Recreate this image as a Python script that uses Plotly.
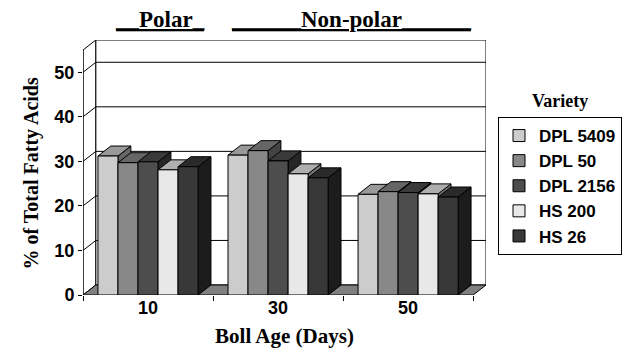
import plotly.graph_objects as go

# ---------------- data ----------------
categories = ["10", "30", "50"]
series_names = ["DPL 5409", "DPL 50", "DPL 2156", "HS 200", "HS 26"]
dpl_5409 = [31.2, 31.4, 22.6]
dpl_50 = [29.7, 32.4, 23.2]
dpl_2156 = [29.9, 30.1, 23.0]
hs_200 = [28.1, 27.2, 22.7]
hs_26 = [28.8, 26.3, 22.0]
y_ticks = [0, 10, 20, 30, 40, 50]
y_max = 55

series_values = [dpl_5409, dpl_50, dpl_2156, hs_200, hs_26]

# ---------------- style ----------------
front_colors = ["#cccccc", "#888888", "#4d4d4d", "#e8e8e8", "#383838"]
top_colors = ["#999999", "#666666", "#3a3a3a", "#aeaeae", "#2a2a2a"]
side_colors = ["#666666", "#444444", "#262626", "#747474", "#1c1c1c"]

SERIF = "Liberation Serif"
SANS = "Liberation Sans"

# pixel geometry
L, R, T, B = 83, 141, 40, 61
W, H = 631, 356
plot_w = W - L - R
plot_h = H - T - B
depth_px_x, depth_px_y = 13, 10

n_cat = len(categories)
px_per_x = (plot_w - depth_px_x) / n_cat
DX = depth_px_x / px_per_x
DY = depth_px_y * (y_max) / (plot_h - depth_px_y)

BARGAP = 0.23
GROUP_W = 1 - BARGAP
BAR_W = GROUP_W / len(series_names)

x0, x1 = -0.5, n_cat - 0.5

fig = go.Figure()

for k, (name, vals) in enumerate(zip(series_names, series_values)):
    fig.add_trace(go.Bar(
        name=name, x=categories, y=vals,
        width=BAR_W, offset=-GROUP_W / 2 + k * BAR_W,
        marker=dict(color=front_colors[k], line=dict(color="black", width=1)),
    ))

shapes = []
edge = dict(color="black", width=1)

# side wall
shapes.append(dict(type="path", layer="below", xref="x", yref="y",
                   path=f"M{x0},0 L{x0+DX},{DY} L{x0+DX},{y_max+DY} L{x0},{y_max} Z",
                   fillcolor="white", line=edge))
# back wall
shapes.append(dict(type="rect", layer="below", xref="x", yref="y",
                   x0=x0 + DX, y0=DY, x1=x1 + DX, y1=y_max + DY,
                   fillcolor="white", line=edge))
# floor
shapes.append(dict(type="path", layer="below", xref="x", yref="y",
                   path=f"M{x0},0 L{x1},0 L{x1+DX},{DY} L{x0+DX},{DY} Z",
                   fillcolor="#808080", line=edge))
# gridlines
for v in y_ticks[1:]:
    shapes.append(dict(type="line", layer="below", xref="x", yref="y",
                       x0=x0, y0=v, x1=x0 + DX, y1=v + DY, line=edge))
    shapes.append(dict(type="line", layer="below", xref="x", yref="y",
                       x0=x0 + DX, y0=v + DY, x1=x1 + DX, y1=v + DY, line=edge))
# front value axis line
shapes.append(dict(type="line", layer="below", xref="x", yref="y",
                   x0=x0, y0=0, x1=x0, y1=y_max, line=edge))

# 3D faces of bars
for i in range(n_cat):
    for k, vals in enumerate(series_values):
        v = vals[i]
        xl = i - GROUP_W / 2 + k * BAR_W
        xr = xl + BAR_W
        shapes.append(dict(type="path", layer="below", xref="x", yref="y",
                           path=f"M{xr},0 L{xr+DX},{DY} L{xr+DX},{v+DY} L{xr},{v} Z",
                           fillcolor=side_colors[k], line=edge))
        shapes.append(dict(type="path", layer="below", xref="x", yref="y",
                           path=f"M{xl},{v} L{xr},{v} L{xr+DX},{v+DY} L{xl+DX},{v+DY} Z",
                           fillcolor=top_colors[k], line=edge))

def px_to_paper_x(px):
    return (px - L) / plot_w

def px_to_paper_y(py):
    return (H - B - py) / plot_h

annotations = [
    dict(text="<u>__Polar_</u>", x=px_to_paper_x(161), y=px_to_paper_y(19),
         xref="paper", yref="paper", showarrow=False, xanchor="center", yanchor="middle",
         font=dict(family=SERIF, size=23, color="black", weight="bold")),
    dict(text="<u>______Non-polar______</u>", x=px_to_paper_x(354), y=px_to_paper_y(19),
         xref="paper", yref="paper", showarrow=False, xanchor="center", yanchor="middle",
         font=dict(family=SERIF, size=23, color="black", weight="bold")),
    dict(text="Variety", x=px_to_paper_x(565), y=px_to_paper_y(101),
         xref="paper", yref="paper", showarrow=False, xanchor="center", yanchor="middle",
         font=dict(family=SERIF, size=18, color="black", weight="bold")),
    dict(text="% of Total Fatty Acids", x=px_to_paper_x(30), y=px_to_paper_y(174),
         xref="paper", yref="paper", showarrow=False, xanchor="center", yanchor="middle",
         textangle=-90,
         font=dict(family=SERIF, size=20, color="black", weight="bold")),
]

fig.update_layout(
    width=W, height=H,
    margin=dict(l=L, r=R, t=T, b=B, pad=0),
    paper_bgcolor="white", plot_bgcolor="rgba(0,0,0,0)",
    barmode="overlay",
    shapes=shapes, annotations=annotations,
    showlegend=True,
    legend=dict(xref="container", yref="container", x=498 / W, y=1 - 117 / H,
                xanchor="left", yanchor="top",
                bordercolor="black", borderwidth=1, bgcolor="white",
                font=dict(family=SANS, size=17, color="black", weight="bold"),
                traceorder="normal"),
    xaxis=dict(type="category", range=[x0, x1 + DX], tickson="boundaries",
               ticks="outside", ticklen=5, tickcolor="black", tickwidth=1,
               showgrid=False, showline=False, zeroline=False,
               tickfont=dict(family=SANS, size=18, color="black", weight="bold"),
               title=dict(text="Boll Age (Days)", standoff=11,
                          font=dict(family=SERIF, size=21, color="black", weight="bold"))),
    yaxis=dict(range=[0, y_max + DY], tickvals=y_ticks,
               ticks="outside", ticklen=4, tickcolor="black", tickwidth=1,
               showgrid=False, showline=False, zeroline=False,
               tickfont=dict(family=SANS, size=18, color="black", weight="bold")),
)

fig.write_html("out.html")
